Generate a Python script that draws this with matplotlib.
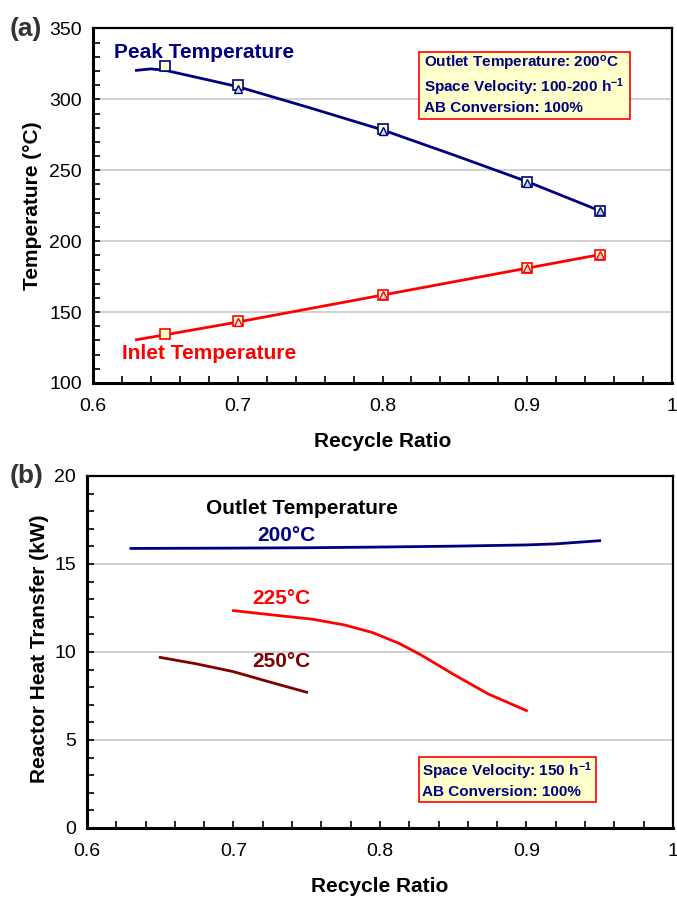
import matplotlib
matplotlib.use("Agg")
import matplotlib.pyplot as plt
from matplotlib.patches import Rectangle
from matplotlib.ticker import MultipleLocator

plt.rcParams['font.family'] = ['Liberation Sans', 'DejaVu Sans']
plt.rcParams['mathtext.fontset'] = 'custom'
plt.rcParams['mathtext.rm'] = 'Liberation Sans:bold'
plt.rcParams['mathtext.it'] = 'Liberation Sans:bold'

NAVY = '#000080'
RED = '#FF0000'
DARKRED = '#800000'
TICKFONT = ['Liberation Sans Narrow', 'Liberation Sans', 'DejaVu Sans']

# ---- panel (a) data ----
peak_curve_x = [0.63, 0.64, 0.65, 0.70, 0.75, 0.80, 0.85, 0.90, 0.95]
peak_curve_y = [320.5, 321.5, 320.5, 309, 294, 278.5, 260.5, 242, 221.5]
inlet_curve_x = [0.63, 0.65, 0.70, 0.80, 0.90, 0.95]
inlet_curve_y = [130.5, 134, 143, 162, 181, 190.5]

peak_sq_x = [0.65, 0.70, 0.80, 0.90, 0.95]
peak_sq_y = [323.5, 310, 279, 242, 221.5]
peak_tri_x = [0.70, 0.80, 0.90, 0.95]
peak_tri_y = [307, 277.5, 241, 221]

inlet_sq_x = [0.65, 0.70, 0.80, 0.90, 0.95]
inlet_sq_y = [134.5, 143.5, 162, 181, 190.5]
inlet_tri_x = [0.70, 0.80, 0.90, 0.95]
inlet_tri_y = [143, 162, 181, 190.5]

# ---- panel (b) data ----
t200_x = [0.63, 0.70, 0.75, 0.80, 0.85, 0.90, 0.92, 0.95]
t200_y = [15.88, 15.90, 15.92, 15.96, 16.01, 16.08, 16.14, 16.32]
t225_x = [0.70, 0.727, 0.754, 0.776, 0.795, 0.813, 0.828, 0.851, 0.874, 0.90]
t225_y = [12.35, 12.10, 11.86, 11.53, 11.10, 10.49, 9.83, 8.69, 7.61, 6.67]
t250_x = [0.65, 0.675, 0.70, 0.724, 0.75]
t250_y = [9.69, 9.32, 8.88, 8.31, 7.71]

fig = plt.figure(figsize=(6.77, 8.99), dpi=100)
ax1 = fig.add_axes([0.1374, 0.5740, 0.8552, 0.3943])
ax2 = fig.add_axes([0.1285, 0.0790, 0.8655, 0.3916])


def style_axes(ax, ymin, ymax, ymajor, yminor):
    ax.set_xlim(0.6, 1.0)
    ax.set_ylim(ymin, ymax)
    ax.xaxis.set_major_locator(MultipleLocator(0.1))
    ax.xaxis.set_minor_locator(MultipleLocator(0.02))
    ax.yaxis.set_major_locator(MultipleLocator(ymajor))
    ax.yaxis.set_minor_locator(MultipleLocator(yminor))
    ax.tick_params(which='both', direction='in', length=5, width=1.2,
                   top=False, right=False, labelsize=14)
    ax.tick_params(axis='x', pad=11)
    ax.tick_params(axis='y', pad=8)
    for lab in ax.get_xticklabels() + ax.get_yticklabels():
        lab.set_family(TICKFONT)
    ax.grid(axis='y', which='major', color='#C8C8C8', linewidth=1.2)
    ax.set_axisbelow(True)
    for s in ['left', 'bottom']:
        ax.spines[s].set_linewidth(2.2)
    for s in ['top', 'right']:
        ax.spines[s].set_linewidth(1.6)
    ax.set_xlabel('Recycle Ratio', fontsize=15, fontweight='bold', labelpad=12)


def fmt_x(v, pos):
    return '1' if abs(v - 1) < 1e-9 else '%.1f' % v


style_axes(ax1, 100, 350, 50, 10)
style_axes(ax2, 0, 20, 5, 1)
for ax in (ax1, ax2):
    ax.xaxis.set_major_formatter(plt.FuncFormatter(fmt_x))

# panel (a)
ax1.plot(peak_curve_x, peak_curve_y, color=NAVY, lw=2)
ax1.plot(inlet_curve_x, inlet_curve_y, color=RED, lw=2)
ax1.plot(peak_sq_x, peak_sq_y, 's', ms=7, mfc='#FFFFC8', mec=NAVY, mew=1.2, ls='none')
ax1.plot(peak_tri_x, peak_tri_y, '^', ms=6, mfc='#B8E6F5', mec=NAVY, mew=1.0, ls='none')
ax1.plot(inlet_sq_x, inlet_sq_y, 's', ms=7, mfc='#FFFFC8', mec=RED, mew=1.2, ls='none')
ax1.plot(inlet_tri_x, inlet_tri_y, '^', ms=6, mfc='#B8E6F5', mec=RED, mew=1.0, ls='none')

ax1.text(0.677, 333.4, 'Peak Temperature', color=NAVY, fontsize=15,
         fontweight='bold', ha='center', va='center')
ax1.text(0.680, 120.8, 'Inlet Temperature', color=RED, fontsize=15,
         fontweight='bold', ha='center', va='center')
ax1.set_ylabel('Temperature (°C)', fontsize=15, fontweight='bold')
ax1.yaxis.set_label_coords(-0.088, 0.5)

ax1.add_patch(Rectangle((0.563, 0.7447), 0.3645, 0.189, transform=ax1.transAxes,
                        facecolor='#FFFFCC', edgecolor=RED, lw=1.2, zorder=5))
box_a = ['Outlet Temperature: 200$^{\\mathrm{o}}$C',
         'Space Velocity: 100-200 h$^{\\mathrm{-1}}$',
         'AB Conversion: 100%']
for txt, yy in zip(box_a, [0.900, 0.835, 0.776]):
    ax1.text(0.5717, yy, txt, transform=ax1.transAxes, color=NAVY, fontsize=11,
             fontweight='bold', ha='left', va='center', zorder=6)

# panel (b)
ax2.plot(t200_x, t200_y, color=NAVY, lw=2)
ax2.plot(t225_x, t225_y, color=RED, lw=2)
ax2.plot(t250_x, t250_y, color=DARKRED, lw=2)
ax2.text(0.7467, 18.13, 'Outlet Temperature', color='black', fontsize=15,
         fontweight='bold', ha='center', va='center')
ax2.text(0.736, 16.59, '200°C', color=NAVY, fontsize=15, fontweight='bold',
         ha='center', va='center')
ax2.text(0.733, 13.01, '225°C', color=RED, fontsize=15, fontweight='bold',
         ha='center', va='center')
ax2.text(0.733, 9.43, '250°C', color=DARKRED, fontsize=15, fontweight='bold',
         ha='center', va='center')
ax2.set_ylabel('Reactor Heat Transfer (kW)', fontsize=15, fontweight='bold')
ax2.yaxis.set_label_coords(-0.064, 0.51)

ax2.add_patch(Rectangle((0.567, 0.0739), 0.302, 0.1278, transform=ax2.transAxes,
                        facecolor='#FFFFCC', edgecolor=RED, lw=1.2, zorder=5))
box_b = ['Space Velocity: 150 h$^{\\mathrm{-1}}$', 'AB Conversion: 100%']
for txt, yy in zip(box_b, [0.162, 0.1023]):
    ax2.text(0.572, yy, txt, transform=ax2.transAxes, color=NAVY, fontsize=11,
             fontweight='bold', ha='left', va='center', zorder=6)

fig.text(10 / 677, 1 - 29 / 899, '(a)', fontsize=19, fontweight='bold',
         color='#333333', ha='left', va='center')
fig.text(10 / 677, 1 - 476 / 899, '(b)', fontsize=19, fontweight='bold',
         color='#333333', ha='left', va='center')

fig.savefig('out.png', dpi=100)
